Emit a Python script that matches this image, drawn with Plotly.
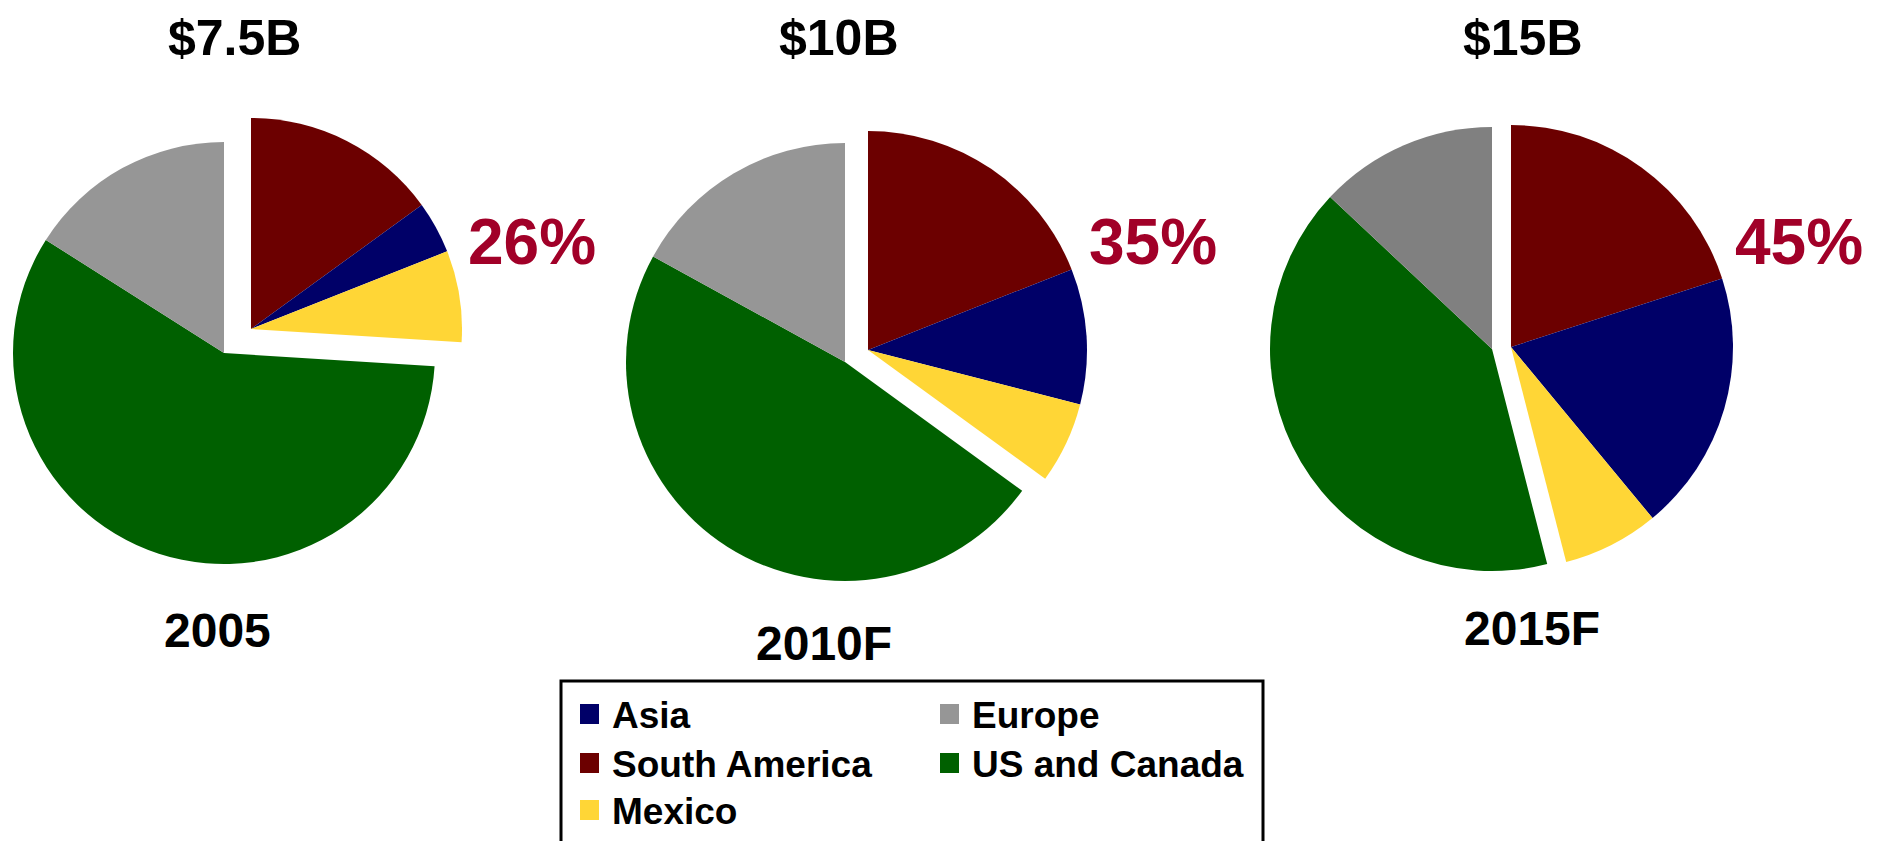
import plotly.graph_objects as go

# ---------------- data ----------------
categories = ["South America", "Asia", "Mexico", "US and Canada", "Europe"]
years = ["2005", "2010F", "2015F"]
totals = ["$7.5B", "$10B", "$15B"]
share_labels = ["26%", "35%", "45%"]

south_america = [15, 19, 20]
asia = [4, 10, 19]
mexico = [7, 6, 7]
us_canada = [58, 48, 41]
europe = [16, 17, 13]

legend_order = ["Asia", "Europe", "South America", "US and Canada", "Mexico"]
exploded_group = ["South America", "Asia", "Mexico"]

# ---------------- style / layout ----------------
W, H = 1881, 841
FONT = "Liberation Sans, Arial, Helvetica, sans-serif"
colors = {
    "South America": "#6c0000",
    "Asia": "#000068",
    "Mexico": "#ffd636",
    "US and Canada": "#006000",
    "Europe": "#969696",
}
europe_colors = ["#969696", "#969696", "#808080"]
TRANSPARENT = "rgba(0,0,0,0)"
RED = "#a10028"

# pixel geometry of each pie: (group centre, rest centre, radius)
geom = [
    ((243, 321), (216, 345), 211),
    ((860, 342), (837, 354), 219),
    ((1503, 339), (1484, 341), 222),
]
total_pos = [(226, 30), (831, 30), (1515, 30)]
year_pos = [(209, 622), (816, 635), (1524, 620)]
share_pos = [(524, 234), (1145, 234), (1791, 234)]


def domain(cx, cy, r):
    return dict(x=[(cx - r) / W, (cx + r) / W], y=[1 - (cy + r) / H, 1 - (cy - r) / H])


fig = go.Figure()
series = [south_america, asia, mexico, us_canada, europe]
for i, year in enumerate(years):
    vals = [s[i] for s in series]
    col = dict(colors)
    col["Europe"] = europe_colors[i]
    (gcx, gcy), (rcx, rcy), r = geom[i]
    # exploded group (pulled out together)
    fig.add_trace(go.Pie(
        labels=categories, values=vals, sort=False, direction="clockwise", rotation=0,
        marker=dict(colors=[col[c] if c in exploded_group else TRANSPARENT for c in categories],
                    line=dict(width=0)),
        textinfo="none", showlegend=False, domain=domain(gcx, gcy, r), name=year,
    ))
    # remaining slices
    fig.add_trace(go.Pie(
        labels=categories, values=vals, sort=False, direction="clockwise", rotation=0,
        marker=dict(colors=[TRANSPARENT if c in exploded_group else col[c] for c in categories],
                    line=dict(width=0)),
        textinfo="none", showlegend=False, domain=domain(rcx, rcy, r), name=year,
    ))

annotations = []
for i in range(len(years)):
    for txt, (px, py), size, color in [
        (totals[i], total_pos[i], 50, "black"),
        (years[i], year_pos[i], 48, "black"),
        (share_labels[i], share_pos[i], 64, RED),
    ]:
        annotations.append(dict(
            text="<b>%s</b>" % txt, x=px / W, y=1 - py / H, xref="paper", yref="paper",
            xanchor="center", yanchor="middle", showarrow=False,
            font=dict(family=FONT, size=size, color=color),
        ))

# legend box (manual, two columns)
shapes = [dict(type="rect", xref="paper", yref="paper",
               x0=553 / W, x1=1255 / W, y0=1 - 870 / H, y1=1 - 673 / H,
               line=dict(color="black", width=3), fillcolor="rgba(0,0,0,0)", layer="below")]
col_x = [572, 932]
row_y = [706, 755, 802]
for k, name in enumerate(legend_order):
    cxp = col_x[k % 2]
    cyp = row_y[k // 2]
    shapes.append(dict(type="rect", xref="paper", yref="paper",
                       x0=cxp / W, x1=(cxp + 19) / W,
                       y0=1 - (cyp + 10) / H, y1=1 - (cyp - 10) / H,
                       line=dict(width=0), fillcolor=colors[name]))
    annotations.append(dict(
        text="<b>%s</b>" % name, x=(cxp + 30) / W, y=1 - (cyp + 1) / H,
        xref="paper", yref="paper", xanchor="left", yanchor="middle", showarrow=False,
        font=dict(family=FONT, size=37, color="black"),
    ))

fig.update_layout(
    width=W, height=H, margin=dict(l=0, r=0, t=0, b=0),
    paper_bgcolor="white", plot_bgcolor="white",
    annotations=annotations, shapes=shapes, showlegend=False,
)
fig.write_html("out.html")
